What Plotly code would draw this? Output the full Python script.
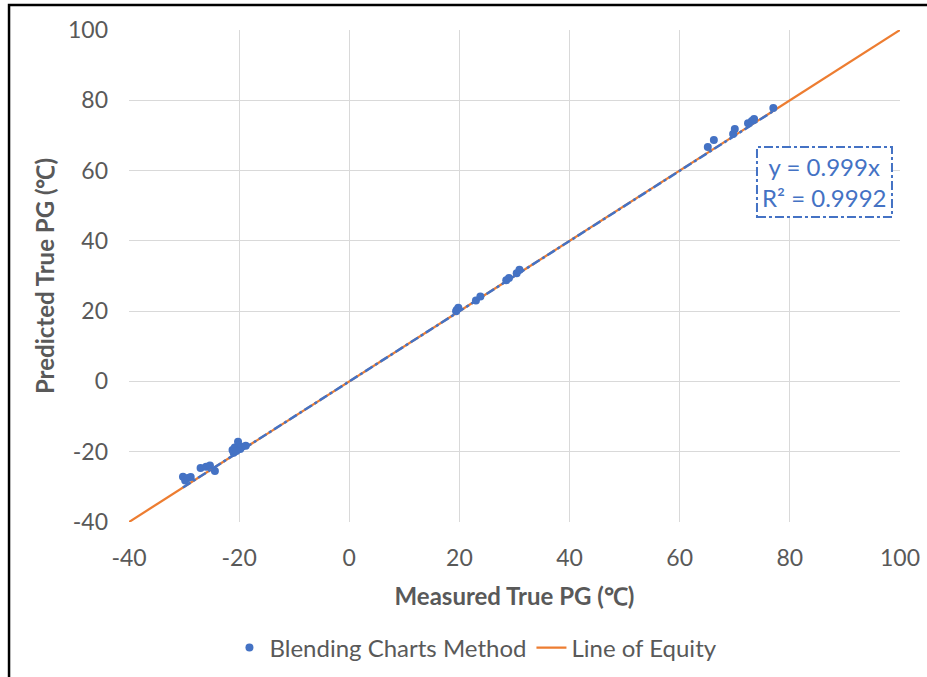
import numpy as np
import plotly.graph_objects as go

# Measured vs predicted true PG grade temperatures (°C)
measured = [
    -30.2, -29.8, -29.3, -28.8,
    -27.0, -26.0, -25.3, -24.4,
    -21.2, -21.0, -20.8, -20.2, -19.8, -19.5, -18.8, -20.5,
    19.5, 19.8, 19.4, 23.0, 23.8, 28.5, 29.0, 30.4, 30.9,
    65.1, 66.2, 69.7, 70.0, 72.4, 73.1, 73.5, 77.0,
]
predicted = [
    -27.1, -28.2, -27.5, -27.2,
    -24.6, -24.3, -23.9, -25.5,
    -19.5, -20.3, -18.8, -17.2, -19.2, -18.6, -18.3, -19.8,
    20.3, 21.0, 20.0, 23.0, 24.2, 28.8, 29.4, 30.8, 31.8,
    66.7, 68.7, 70.4, 71.8, 73.5, 74.1, 74.7, 77.8,
]
equity_x = [-40, 100]
trend_slope = 0.999
r_squared = 0.9992
tick_vals = [-40, -20, 0, 20, 40, 60, 80, 100]
tick_text = ["-40", "-20", "0", "20", "40", "60", "80", "100"]

BLUE = "#4472C4"
ORANGE = "#ED7D31"
GREY_TXT = "#595959"
GRID = "#D9D9D9"
FONT = "Lato, 'Open Sans', sans-serif"

fig = go.Figure()

fig.add_trace(go.Scatter(
    x=equity_x, y=equity_x, mode="lines", name="Line of Equity",
    line=dict(color=ORANGE, width=2.25),
))

# linear trendline through the origin over the measured range
tx = np.array([min(measured), max(measured)])
fig.add_trace(go.Scatter(
    x=tx, y=trend_slope * tx, mode="lines", showlegend=False,
    line=dict(color=BLUE, width=2.5, dash="dashdot"),
    hoverinfo="skip",
))

fig.add_trace(go.Scatter(
    x=measured, y=predicted, mode="markers", name="Blending Charts Method",
    marker=dict(color=BLUE, size=8),
))

axis_common = dict(
    range=[-40, 100], tickvals=tick_vals, ticktext=tick_text,
    showgrid=True, gridcolor=GRID, gridwidth=1,
    zeroline=False, showline=False, ticks="", automargin=False,
    tickfont=dict(family=FONT, size=23, color=GREY_TXT),
    title_font=dict(family=FONT, size=24, color=GREY_TXT),
    fixedrange=True,
)

fig.update_layout(
    width=927, height=677,
    margin=dict(l=129, r=27, t=30, b=155, autoexpand=False),
    paper_bgcolor="white", plot_bgcolor="white",
    font=dict(family=FONT, color=GREY_TXT),
    xaxis=dict(axis_common, ticklabelstandoff=20,
               title=dict(text="<b>Measured True PG (℃)</b>", standoff=18)),
    yaxis=dict(axis_common, ticklabelstandoff=20,
               title=dict(text="<b>Predicted True PG (℃)</b>", standoff=6)),
    legend=dict(
        orientation="h", x=0.45, xanchor="center", y=-0.256, yanchor="middle",
        font=dict(family=FONT, size=24, color=GREY_TXT),
        traceorder="reversed",
    ),
    showlegend=True,
)

# equation label with dash-dot frame
fig.add_shape(
    type="rect", xref="paper", yref="paper",
    x0=0.8145, x1=0.9896, y0=0.6199, y1=0.7622,
    line=dict(color=BLUE, width=2, dash="dashdot"), fillcolor="white", layer="above",
)
fig.add_annotation(
    xref="paper", yref="paper", x=0.902, y=0.691, xanchor="center", yanchor="middle",
    showarrow=False, text=f"y = {trend_slope:g}x<br>R² = {r_squared:g}",
    font=dict(family=FONT, size=24, color=BLUE), align="center",
)

# outer chart frame (continues past the right and bottom edges)
fig.add_shape(
    type="rect", xref="paper", yref="paper",
    x0=-0.1556, x1=1.2, y0=-0.45, y1=1.0508,
    line=dict(color="black", width=2.5), layer="above",
)

fig.write_html("out.html")
